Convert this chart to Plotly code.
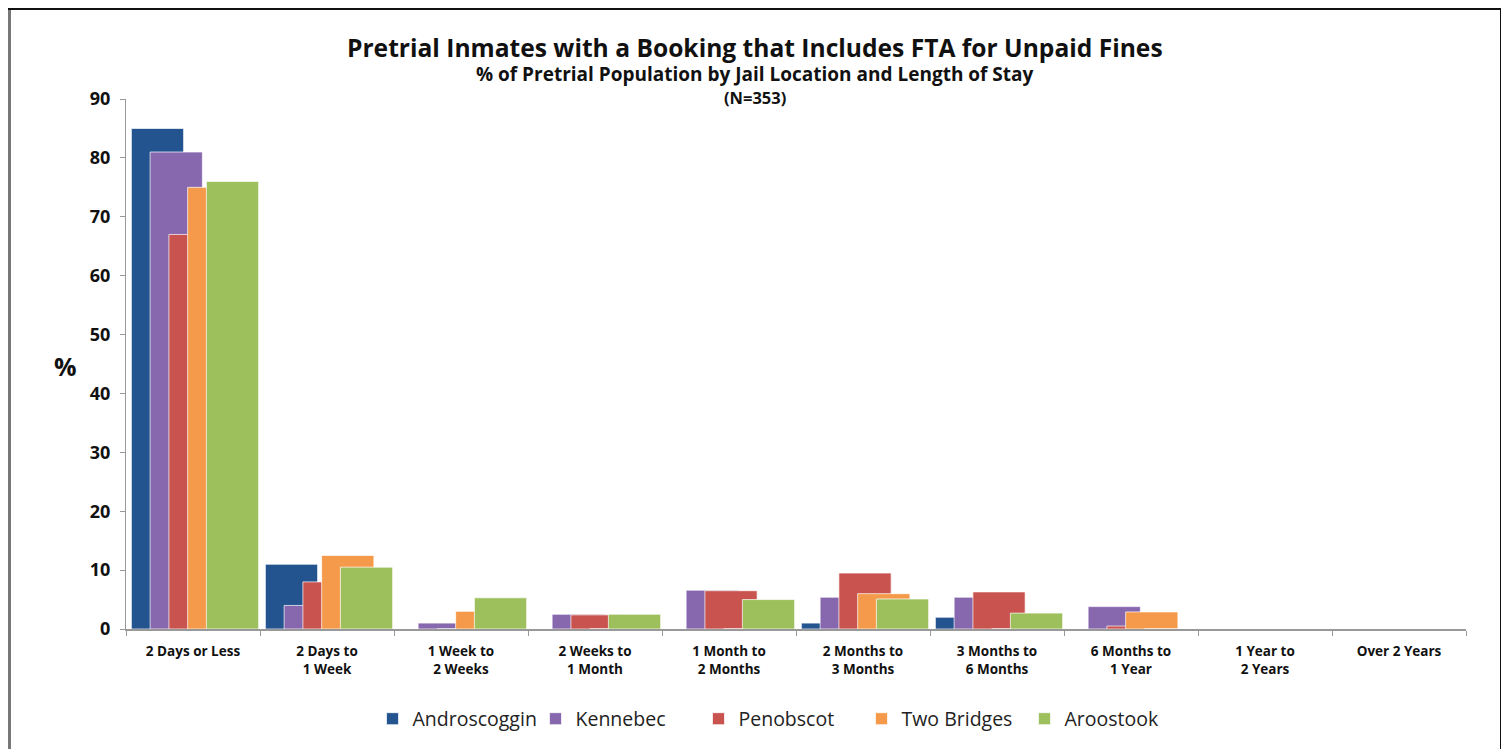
import plotly.graph_objects as go

categories = ["2 Days or Less", "2 Days to<br>1 Week", "1 Week to<br>2 Weeks", "2 Weeks to<br>1 Month",
              "1 Month to<br>2 Months", "2 Months to<br>3 Months", "3 Months to<br>6 Months",
              "6 Months to<br>1 Year", "1 Year to<br>2 Years", "Over 2 Years"]

androscoggin = [85, 11, 0, 0, 0, 1, 2, 0, 0, 0]
kennebec = [81, 4, 1, 2.5, 6.6, 5.4, 5.4, 3.8, 0, 0]
penobscot = [67, 8, 0, 2.4, 6.5, 9.5, 6.3, 0.5, 0, 0]
two_bridges = [75, 12.5, 3, 0, 0, 6, 0, 2.9, 0, 0]
aroostook = [76, 10.5, 5.3, 2.5, 5, 5.1, 2.7, 0, 0, 0]
y_ticks = [0, 10, 20, 30, 40, 50, 60, 70, 80, 90]

series = [
    ("Androscoggin", androscoggin, "#23548F", -0.46),
    ("Kennebec", kennebec, "#8767AE", -0.32),
    ("Penobscot", penobscot, "#C9534F", -0.18),
    ("Two Bridges", two_bridges, "#F59A4A", -0.04),
    ("Aroostook", aroostook, "#9DC05C", 0.10),
]

FONT = "Open Sans"

fig = go.Figure()
for name, vals, color, off in series:
    fig.add_trace(go.Bar(
        x=categories, y=vals, name=name,
        marker=dict(color=color, line=dict(color="rgba(255,255,255,0.7)", width=1)),
        width=0.39, offset=off,
    ))

# page has an 8px body margin: figure pixel = screen pixel - 8
OFF = 8
W, H = 1509 - OFF, 749 - OFF
plot_left, plot_right, plot_top, plot_bottom = 126 - OFF, 1466 - OFF, 99 - OFF, 629 - OFF
L, R, T, B = plot_left, W - plot_right, plot_top, H - plot_bottom
pw = W - L - R
ph = H - T - B

def px(xs):
    return (xs - OFF - L) / pw

def py(ys):
    return (plot_bottom - (ys - OFF)) / ph

annotations = [
    dict(text="<b>Pretrial Inmates with a Booking that Includes FTA for Unpaid Fines</b>",
         x=px(755), y=py(47), font=dict(size=24.6, color="#111", family=FONT)),
    dict(text="<b>% of Pretrial Population by Jail Location and Length of Stay</b>",
         x=px(755), y=py(74), font=dict(size=19, color="#111", family=FONT)),
    dict(text="<b>(N=353)</b>",
         x=px(755), y=py(98), font=dict(size=16.5, color="#111", family=FONT)),
    dict(text="<b>%</b>", x=px(65), y=py(366), font=dict(size=25, color="#111", family=FONT)),
]
for a in annotations:
    a.update(xref="paper", yref="paper", showarrow=False, xanchor="center", yanchor="middle")

# frame around the picture (left/top drawn at the first visible pixels)
shapes = [
    dict(type="line", xref="paper", yref="paper", x0=px(OFF + 1.5), x1=px(OFF + 1.5), y0=py(OFF + 1), y1=py(760),
         line=dict(color="#777", width=3)),
    dict(type="line", xref="paper", yref="paper", x0=px(OFF), x1=px(1502), y0=py(OFF + 1), y1=py(OFF + 1),
         line=dict(color="#111", width=2)),
    dict(type="line", xref="paper", yref="paper", x0=px(1501), x1=px(1501), y0=py(OFF + 1), y1=py(760),
         line=dict(color="#111", width=2)),
]

fig.update_layout(
    width=W, height=H,
    margin=dict(l=L, r=R, t=T, b=B, autoexpand=False),
    paper_bgcolor="white", plot_bgcolor="white",
    barmode="overlay",
    showlegend=True,
    legend=dict(orientation="h", x=px(780), xanchor="center", y=py(719), yanchor="middle",
                font=dict(size=19.5, color="#222", family=FONT), itemwidth=30,
                entrywidth=118, entrywidthmode="pixels",
                traceorder="normal"),
    annotations=annotations,
    shapes=shapes,
    font=dict(family=FONT, color="#111"),
)
fig.update_xaxes(
    type="category", range=[-0.5, 9.5],
    tickvals=categories, ticktext=["<b>%s</b>" % c for c in categories],
    showline=True, linecolor="#999", linewidth=2,
    ticks="outside", tickson="boundaries", ticklen=5, tickcolor="#999",
    ticklabelstandoff=9,
    tickfont=dict(size=13.5, color="#111", family=FONT),
    showgrid=False,
)
fig.update_yaxes(
    range=[0, 90], tickvals=y_ticks,
    ticktext=["<b>%d</b>" % v for v in y_ticks],
    showline=True, linecolor="#999", linewidth=1,
    ticks="outside", ticklen=5, tickcolor="#999",
    ticklabelstandoff=6,
    tickfont=dict(size=18, color="#111", family=FONT),
    showgrid=False, zeroline=False,
)

fig.write_html("out.html")
